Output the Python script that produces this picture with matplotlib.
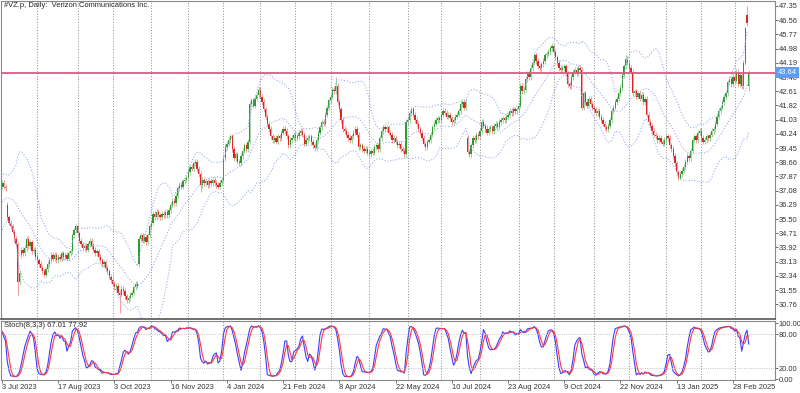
import numpy as np
import pandas as pd
import matplotlib
matplotlib.use("Agg")
import matplotlib.pyplot as plt

plt.rcParams["font.family"] = ["Liberation Sans Narrow", "Liberation Sans", "DejaVu Sans"]

# =========================
# data (daily closes)
# =========================
warmup = [34.6, 34.9, 35.3, 35.1, 35.5, 35.8, 36.0, 36.4, 36.2, 36.0,
          36.3, 36.6, 36.9, 37.0, 36.8, 37.1, 37.3, 37.2, 37.4, 37.3]

jul23 = [37.5, 37.3, 37.2, 35.6, 35.3, 35.1, 34.8, 34.4, 34.1, 32.0,
         32.5, 33.8, 33.6, 33.9, 34.4, 34.0, 34.2, 33.7, 33.8, 33.4]
aug23 = [33.2, 33.0, 32.8, 32.6, 32.4, 32.7, 33.0, 33.2, 33.5, 33.3, 33.5, 33.2,
         33.4, 33.3, 33.6, 33.4, 33.5, 33.3, 33.6, 33.7, 34.6, 34.9, 35.1]
sep23 = [34.7, 34.3, 34.1, 33.9, 34.0, 33.8, 34.1, 34.3, 34.0, 33.8,
         33.6, 33.7, 33.4, 33.2, 33.0, 33.1, 32.8, 32.6, 32.3, 32.1]
oct23 = [31.9, 31.7, 31.8, 31.4, 31.3, 31.6, 31.5, 31.2, 31.0, 31.1, 31.3,
         31.4, 31.7, 31.9, 31.8, 34.4, 34.6, 34.3, 34.5, 34.2, 34.6, 35.1]
nov23 = [35.3, 35.8, 35.6, 35.9, 35.7, 35.6, 35.8, 35.7, 35.9, 35.7, 36.0,
         36.3, 36.5, 36.4, 36.8, 37.2, 37.4, 37.3, 37.6, 37.7, 37.8]
dec23 = [38.1, 38.4, 38.3, 38.6, 38.7, 38.3, 38.0, 37.4, 37.7, 37.5,
         37.6, 37.4, 37.6, 37.5, 37.7, 37.5, 37.4, 37.3, 37.5, 37.7]
jan24 = [38.9, 39.5, 39.7, 39.9, 40.1, 39.4, 38.9, 39.1, 38.7, 38.6, 39.0,
         39.3, 39.6, 39.4, 39.8, 41.9, 42.1, 41.8, 42.2, 42.4, 42.7]
feb24 = [42.3, 42.0, 41.6, 41.2, 40.8, 40.5, 40.1, 39.9, 40.0, 39.8,
         40.1, 40.0, 40.3, 40.5, 40.4, 40.1, 39.6, 39.9, 40.0, 40.2]
mar24 = [40.0, 40.1, 40.3, 40.4, 40.2, 39.7, 39.9, 40.0, 40.1, 39.8,
         39.6, 39.45, 39.9, 40.3, 40.6, 40.9, 40.8, 41.3, 41.7, 42.1]
apr24 = [42.3, 42.7, 42.6, 42.9, 42.0, 41.6, 41.0, 40.5, 40.4, 40.2, 40.0,
         39.9, 40.1, 40.3, 40.5, 40.2, 39.5, 39.6, 39.4, 39.3, 39.4, 39.2]
may24 = [39.1, 39.3, 39.2, 39.5, 39.6, 39.4, 40.0, 40.4, 40.6, 40.5, 40.6,
         40.3, 40.2, 39.9, 40.0, 39.8, 39.6, 39.7, 39.4, 39.3, 39.1, 40.9]
jun24 = [41.0, 41.4, 41.6, 41.3, 41.0, 40.8, 40.5, 40.3, 40.0, 39.7,
         39.5, 39.8, 39.9, 40.2, 40.6, 40.8, 41.0, 41.1, 41.0]
jul24 = [41.3, 41.5, 41.4, 41.2, 41.3, 41.1, 40.9, 41.0, 41.2, 41.3, 41.5,
         41.9, 42.0, 41.7, 42.0, 39.25, 39.1, 39.6, 40.0, 39.9, 40.2, 40.1]
aug24 = [40.4, 40.9, 40.7, 40.5, 40.3, 40.5, 40.6, 40.4, 40.7, 40.8, 40.6,
         40.9, 41.0, 41.1, 41.0, 41.2, 41.3, 41.5, 41.4, 41.6, 41.5, 41.6]
sep24 = [41.8, 42.9, 42.6, 42.7, 43.3, 43.6, 43.4, 43.9, 44.2, 44.6,
         44.3, 44.0, 43.9, 44.1, 44.3, 44.6, 44.7, 44.8, 45.0, 45.1]
oct24 = [44.8, 44.5, 44.2, 43.9, 43.8, 43.9, 44.0, 43.6, 43.0, 42.9, 43.4, 43.7,
         43.8, 43.6, 43.9, 43.8, 41.7, 42.5, 42.0, 41.8, 42.2, 41.9, 41.7]
nov24 = [41.6, 41.4, 41.5, 41.2, 41.0, 40.8, 40.6, 40.5, 40.7, 41.0,
         41.5, 41.7, 42.0, 42.2, 42.5, 42.8, 43.5, 44.0, 44.4, 44.2]
dec24 = [43.9, 43.7, 42.5, 42.6, 42.3, 42.5, 42.2, 42.4, 42.0, 42.2, 41.3,
         40.9, 40.7, 40.4, 40.2, 40.1, 39.9, 40.0, 39.8, 39.7, 39.9]
jan25 = [40.1, 40.0, 39.6, 39.4, 39.0, 38.6, 38.1, 37.8, 38.0, 38.2,
         38.4, 38.7, 39.0, 38.9, 39.3, 39.9, 40.1, 39.9, 40.3, 40.4]
feb25 = [40.0, 39.8, 39.9, 40.1, 40.0, 40.2, 40.4, 40.5, 40.8, 41.2,
         41.5, 41.7, 42.0, 42.3, 42.5, 43.1, 43.3, 43.0, 43.4]
mar25 = [43.2, 43.7, 43.0, 43.5, 42.9, 44.2, 46.1, 46.4, 43.64]

# opens that gap away from the previous close, bar index -> open
gap_opens = {0: 37.3, 3: 36.3, 11: 33.5, 78: 33.0, 265: 40.0, 424: 46.85, 425: 42.9}
# long wicks, bar index -> value
wick_highs = {42: 35.25, 146: 42.85, 190: 43.4, 313: 45.3, 355: 44.65, 423: 46.2, 424: 47.35}
wick_lows = {9: 31.3, 67: 30.3, 113: 37.0, 385: 37.7, 425: 42.6}

# first bar of each month (period separators)
month_starts = [20, 43, 63, 85, 106, 126, 147, 167, 187, 209, 231, 250,
                272, 294, 314, 337, 357, 378, 398, 417]
date_labels = ["3 Jul 2023", "17 Aug 2023", "3 Oct 2023", "16 Nov 2023",
               "4 Jan 2024", "21 Feb 2024", "8 Apr 2024", "22 May 2024",
               "10 Jul 2024", "23 Aug 2024", "9 Oct 2024", "22 Nov 2024",
               "13 Jan 2025", "28 Feb 2025"]
price_ticks = [47.35, 46.56, 45.77, 44.98, 44.19, 43.40, 42.61, 41.82, 41.03,
               40.24, 39.45, 38.66, 37.87, 37.08, 36.29, 35.50, 34.71, 33.92,
               33.13, 32.34, 31.55, 30.76]
last_price = 43.64
stoch_text = "Stoch(8,3,3) 67.01 77.92"

# =========================
# build OHLC + indicators
# =========================
closes = (jul23 + aug23 + sep23 + oct23 + nov23 + dec23 + jan24 + feb24 + mar24
          + apr24 + may24 + jun24 + jul24 + aug24 + sep24 + oct24 + nov24 + dec24
          + jan25 + feb25 + mar25)
nw = len(warmup)
df = pd.DataFrame({"close": warmup + closes})
df["x"] = np.arange(len(df)) - nw
df["open"] = df["close"].shift(1).fillna(df["close"])
for i, o in gap_opens.items():
    df.loc[i + nw, "open"] = o
body_hi = df[["open", "close"]].max(axis=1)
body_lo = df[["open", "close"]].min(axis=1)
df["high"] = body_hi + 0.15
df["low"] = body_lo - 0.15
for i, h in wick_highs.items():
    df.loc[i + nw, "high"] = h
for i, l in wick_lows.items():
    df.loc[i + nw, "low"] = l

mid = df["close"].rolling(20).mean()
sd = df["close"].rolling(20).std(ddof=0)
df["bb_mid"] = mid
df["bb_up"] = mid + 2 * sd
df["bb_dn"] = mid - 2 * sd

ll = df["low"].rolling(8).min()
hh = df["high"].rolling(8).max()
df["k"] = 100 * (df["close"] - ll).rolling(3).sum() / (hh - ll).rolling(3).sum()
df["d"] = df["k"].rolling(3).mean()

# =========================
# plot
# =========================
W, H = 800, 393
fig = plt.figure(figsize=(W / 100, H / 100), dpi=100)
fig.patch.set_facecolor("white")

ax = fig.add_axes([1 / W, 1 - 319 / H, 774 / W, 318 / H])
ax2 = fig.add_axes([1 / W, 1 - 379.5 / H, 774 / W, 59 / H])

px_per_bar = 1.757
x0 = (1 - 2) / px_per_bar
x1 = (775 - 2) / px_per_bar
ylo = 47.35 - (319 - 6) / 17.98
yhi = 47.35 + (6 - 1) / 17.98

green = "#2e9a2e"
red = "#e02424"
up = df["close"] >= df["open"]
cols = np.where(up, green, red)

ax.vlines(df["x"], df["low"], df["high"], colors=cols, lw=0.7, alpha=0.45)
ax.bar(df["x"], (df["close"] - df["open"]).abs().clip(lower=0.04), bottom=body_lo,
       width=0.72, color=cols, linewidth=0)

bb_col = "#9aaef0"
for c in ["bb_up", "bb_mid", "bb_dn"]:
    ax.plot(df["x"], df[c], color=bb_col, lw=0.8, ls=(0, (1, 1.6)))

ax.axhline(last_price, color="#dc5a84", lw=1.3)

sep_style = dict(color="#8a8a8a", lw=0.7, ls=(0, (1, 1.8)))
for m in month_starts:
    ax.axvline(m, **sep_style)
    ax2.axvline(m, **sep_style)

lab_size = 5.4
ax.set_xlim(x0, x1)
ax.set_ylim(ylo, yhi)
ax.set_yticks(price_ticks)
ax.set_yticklabels([f"{v:.2f}" for v in price_ticks])
ax.yaxis.tick_right()
ax.tick_params(axis="y", direction="out", length=2, width=0.6, pad=0.8,
               labelsize=lab_size, labelcolor="#333333", color="#555555")
ax.set_xticks([])

ax.text(0.004, 0.996, "#VZ.p, Daily:  Verizon Communications Inc.",
        transform=ax.transAxes, ha="left", va="top", fontsize=lab_size, color="#222222")
ax.text(1.003, last_price, f"{last_price:.2f}",
        transform=ax.get_yaxis_transform(), ha="left", va="center",
        fontsize=lab_size, color="white",
        bbox=dict(boxstyle="square,pad=0.3", fc="#5f9cf5", ec="none"))

# stochastic panel
ax2.plot(df["x"], df["k"], color="#3d3dff", lw=0.8)
ax2.plot(df["x"], df["d"], color="#ff3a3a", lw=0.8)
for lv in (20, 80):
    ax2.axhline(lv, color="#bdbdbd", lw=0.6, ls=(0, (1.2, 1.5)))
ax2.set_xlim(x0, x1)
ax2.set_ylim(-0.5, 104.8)
ax2.set_yticks([0, 20, 80, 100])
ax2.set_yticklabels(["0.00", "20.00", "80.00", "100.00"])
ax2.yaxis.tick_right()
ax2.tick_params(axis="y", direction="out", length=2, width=0.6, pad=0.8,
                labelsize=lab_size, labelcolor="#333333", color="#555555")
ax2.set_xticks(np.arange(len(date_labels)) * 32)
ax2.set_xticklabels(date_labels, ha="left")
ax2.tick_params(axis="x", direction="out", length=2.5, width=0.6, pad=1,
                labelsize=lab_size, labelcolor="#333333", color="#555555")
ax2.text(0.004, 0.97, stoch_text, transform=ax2.transAxes, ha="left", va="top",
         fontsize=lab_size, color="#222222")

for a in (ax, ax2):
    for s in a.spines.values():
        s.set_color("#888888")
        s.set_linewidth(0.8)
ax.spines["bottom"].set_color("#555555")
ax.spines["bottom"].set_linewidth(1.2)

fig.savefig("out.png", dpi=100)
